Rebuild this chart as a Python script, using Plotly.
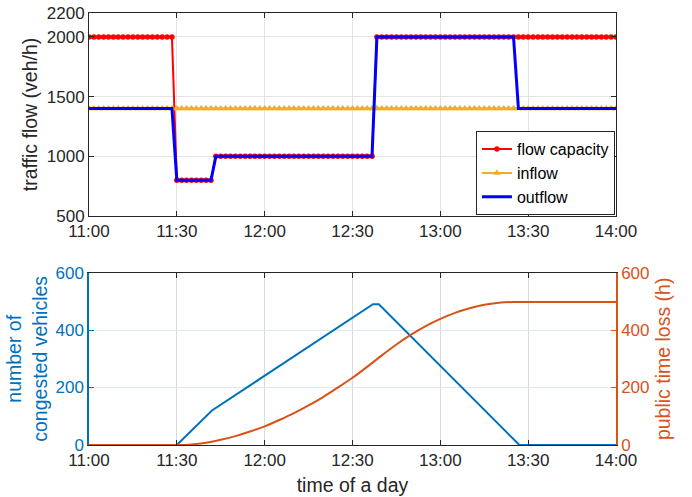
import numpy as np
import plotly.graph_objects as go

# ---------------- data ----------------
tick_vals = [0, 30, 60, 90, 120, 150, 180]          # minutes after 11:00
tick_text = ["11:00", "11:30", "12:00", "12:30", "13:00", "13:30", "14:00"]

# sampling grid of the top panel (minutes after 11:00, 100 s step)
time_min = np.linspace(0, 180, 109)

flow_capacity = [
    2000, 2000, 2000, 2000, 2000, 2000, 2000, 2000, 2000, 2000,
    2000, 2000, 2000, 2000, 2000, 2000, 2000, 2000, 800, 800,
    800, 800, 800, 800, 800, 800, 1000, 1000, 1000, 1000,
    1000, 1000, 1000, 1000, 1000, 1000, 1000, 1000, 1000, 1000,
    1000, 1000, 1000, 1000, 1000, 1000, 1000, 1000, 1000, 1000,
    1000, 1000, 1000, 1000, 1000, 1000, 1000, 1000, 1000, 2000,
    2000, 2000, 2000, 2000, 2000, 2000, 2000, 2000, 2000, 2000,
    2000, 2000, 2000, 2000, 2000, 2000, 2000, 2000, 2000, 2000,
    2000, 2000, 2000, 2000, 2000, 2000, 2000, 2000, 2000, 2000,
    2000, 2000, 2000, 2000, 2000, 2000, 2000, 2000, 2000, 2000,
    2000, 2000, 2000, 2000, 2000, 2000, 2000, 2000, 2000,
]

inflow = [
    1400, 1400, 1400, 1400, 1400, 1400, 1400, 1400, 1400, 1400,
    1400, 1400, 1400, 1400, 1400, 1400, 1400, 1400, 1400, 1400,
    1400, 1400, 1400, 1400, 1400, 1400, 1400, 1400, 1400, 1400,
    1400, 1400, 1400, 1400, 1400, 1400, 1400, 1400, 1400, 1400,
    1400, 1400, 1400, 1400, 1400, 1400, 1400, 1400, 1400, 1400,
    1400, 1400, 1400, 1400, 1400, 1400, 1400, 1400, 1400, 1400,
    1400, 1400, 1400, 1400, 1400, 1400, 1400, 1400, 1400, 1400,
    1400, 1400, 1400, 1400, 1400, 1400, 1400, 1400, 1400, 1400,
    1400, 1400, 1400, 1400, 1400, 1400, 1400, 1400, 1400, 1400,
    1400, 1400, 1400, 1400, 1400, 1400, 1400, 1400, 1400, 1400,
    1400, 1400, 1400, 1400, 1400, 1400, 1400, 1400, 1400,
]

outflow = [
    1400, 1400, 1400, 1400, 1400, 1400, 1400, 1400, 1400, 1400,
    1400, 1400, 1400, 1400, 1400, 1400, 1400, 1400, 800, 800,
    800, 800, 800, 800, 800, 800, 1000, 1000, 1000, 1000,
    1000, 1000, 1000, 1000, 1000, 1000, 1000, 1000, 1000, 1000,
    1000, 1000, 1000, 1000, 1000, 1000, 1000, 1000, 1000, 1000,
    1000, 1000, 1000, 1000, 1000, 1000, 1000, 1000, 1000, 2000,
    2000, 2000, 2000, 2000, 2000, 2000, 2000, 2000, 2000, 2000,
    2000, 2000, 2000, 2000, 2000, 2000, 2000, 2000, 2000, 2000,
    2000, 2000, 2000, 2000, 2000, 2000, 2000, 2000, 1400, 1400,
    1400, 1400, 1400, 1400, 1400, 1400, 1400, 1400, 1400, 1400,
    1400, 1400, 1400, 1400, 1400, 1400, 1400, 1400, 1400,
]

# bottom panel
queue_time = [0, 30, 42, 97, 99, 147, 180]
congested_vehicles = [0, 0, 120, 490, 490, 0, 0]

loss_time = [0, 5, 10, 15, 20, 25, 30, 35, 40, 45, 50, 55, 60, 65, 70, 75, 80, 85,
             90, 95, 100, 105, 110, 115, 120, 125, 130, 135, 140, 145, 150, 155,
             160, 165, 170, 175, 180]
time_loss = [0, 0, 0, 0, 0, 0, 0, 2, 8, 18, 31, 47, 65, 87, 111, 138, 167, 200,
             234, 272, 312, 350, 384, 414, 439, 460, 476, 488, 495, 498, 498, 498,
             498, 498, 498, 498, 498]

# ---------------- styles ----------------
FONT = "Liberation Sans, Arial, sans-serif"
DARK = "#262626"
GRID = "#E3E3E3"
MBLUE = "#0072BD"
MORANGE = "#D95319"
TICK = 17
TITLE = 19.5

fig = go.Figure()

fig.add_trace(go.Scatter(
    x=time_min, y=flow_capacity, name="flow capacity", mode="lines+markers",
    line=dict(color="#FF0000", width=2), marker=dict(symbol="circle", size=5.5, color="#FF0000"),
    xaxis="x", yaxis="y"))
fig.add_trace(go.Scatter(
    x=time_min, y=inflow, name="inflow", mode="lines+markers",
    line=dict(color="#EDB120", width=2), marker=dict(symbol="triangle-up", size=7, color="#EDB120"),
    xaxis="x", yaxis="y"))
fig.add_trace(go.Scatter(
    x=time_min, y=outflow, name="outflow", mode="lines",
    line=dict(color="#0000FF", width=3),
    xaxis="x", yaxis="y"))

fig.add_trace(go.Scatter(
    x=queue_time, y=congested_vehicles, mode="lines", showlegend=False,
    line=dict(color=MBLUE, width=2), xaxis="x2", yaxis="y3"))
fig.add_trace(go.Scatter(
    x=loss_time, y=time_loss, mode="lines", showlegend=False,
    line=dict(color=MORANGE, width=2, shape="spline", smoothing=0.6), xaxis="x2", yaxis="y4"))

axis_common = dict(showline=True, ticks="inside", ticklen=5, zeroline=False, automargin=False)

fig.update_layout(
    width=692, height=497,
    margin=dict(l=89, r=76, t=13, b=52),
    paper_bgcolor="white", plot_bgcolor="white",
    font=dict(family=FONT, color=DARK, size=TICK),
    showlegend=True,
    legend=dict(x=0.998, xanchor="right", y=0.532, yanchor="bottom",
                bgcolor="white", bordercolor=DARK, borderwidth=1,
                font=dict(size=16, color="black"), tracegroupgap=0,
                itemwidth=30),
    xaxis=dict(domain=[0, 1], anchor="y", range=[0, 180], tickvals=tick_vals, ticktext=tick_text,
               mirror="ticks", linecolor=DARK, linewidth=1, tickcolor=DARK,
               showgrid=True, gridcolor=GRID, tickfont=dict(size=TICK, color=DARK),
               **axis_common),
    yaxis=dict(domain=[0.530, 1], anchor="x", range=[500, 2200],
               tickvals=[500, 1000, 1500, 2000, 2200],
               mirror="ticks", linecolor=DARK, linewidth=1, tickcolor=DARK,
               showgrid=True, gridcolor=GRID, tickfont=dict(size=TICK, color=DARK),
               title=dict(text="traffic flow (veh/h)", font=dict(size=TITLE, color=DARK), standoff=3),
               **axis_common),
    xaxis2=dict(domain=[0, 1], anchor="y3", range=[0, 180], tickvals=tick_vals, ticktext=tick_text,
                mirror="ticks", linecolor=DARK, linewidth=1, tickcolor=DARK,
                showgrid=True, gridcolor="#DADADA", tickfont=dict(size=TICK, color=DARK),
                title=dict(text="time of a day", font=dict(size=TITLE, color=DARK), standoff=8),
                **axis_common),
    yaxis3=dict(domain=[0, 0.399], anchor="x2", range=[0, 600], tickvals=[0, 200, 400, 600],
                linecolor=MBLUE, linewidth=1.5, tickcolor=MBLUE,
                showgrid=True, gridcolor="#DCE9F4", tickfont=dict(size=TICK, color=MBLUE),
                title=dict(text="number of<br>congested vehicles", font=dict(size=TITLE, color=MBLUE),
                           standoff=3),
                **axis_common),
    yaxis4=dict(overlaying="y3", side="right", anchor="x2", range=[0, 600], tickvals=[0, 200, 400, 600],
                linecolor=MORANGE, linewidth=1.5, tickcolor=MORANGE,
                showgrid=False, tickfont=dict(size=TICK, color=MORANGE),
                title=dict(text="public time loss (h)", font=dict(size=TITLE, color=MORANGE), standoff=8),
                **axis_common),
)

fig.write_html("out.html", config={"displayModeBar": False},
               post_script="document.body.style.margin='0';document.body.style.overflow='hidden';")
